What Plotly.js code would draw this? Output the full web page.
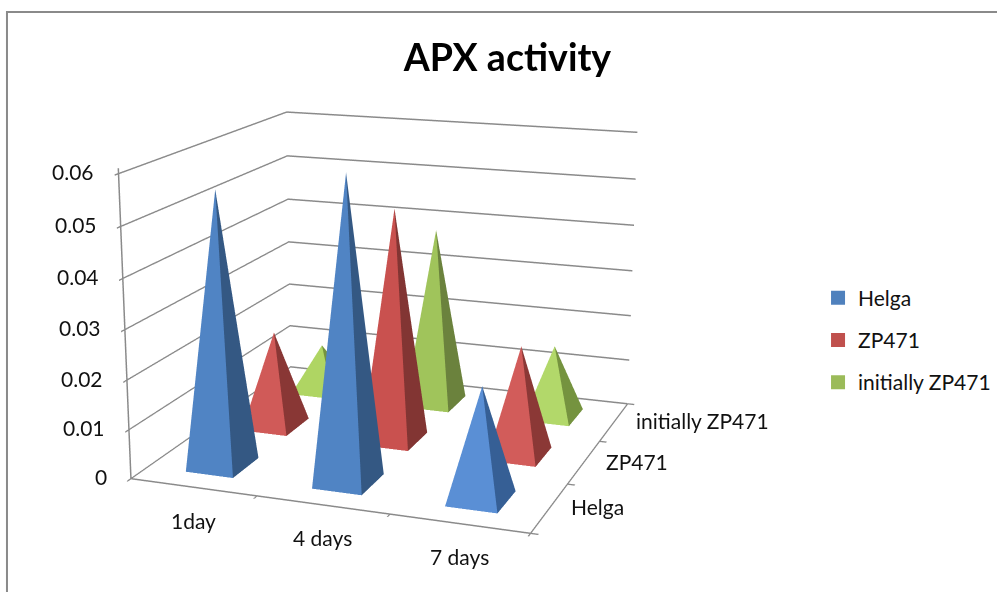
<!DOCTYPE html>
<html><head><meta charset="utf-8">
<script src="https://cdn.plot.ly/plotly-3.0.1.min.js"></script>
<style>html,body{margin:0;padding:0;background:#fff;overflow:hidden}#w{position:absolute;left:0;top:0;width:997px;height:592px;overflow:hidden}#c{position:absolute;left:0;top:-434px;width:997px;height:1460px}</style>
</head><body><div id="w"><div id="c"></div></div>
<script>
const categories = ["1day", "4 days", "7 days"];
const seriesNames = ["Helga", "ZP471", "initially ZP471"];
const helga = [0.0555, 0.0605, 0.0222];
const zp471 = [0.0202, 0.0485, 0.0226];
const initiallyZp471 = [0.0102, 0.0386, 0.0154];
const zTicks = [0, 0.01, 0.02, 0.03, 0.04, 0.05, 0.06];
const zTickLabels = ["0", "0.01", "0.02", "0.03", "0.04", "0.05", "0.06"];
const legendColors = ["#4f81bd", "#c0504d", "#9bbb59"];
const helgaFront = ["#5084c4", "#5084c4", "#5a8fd5"];
const zp471Front = ["#d05a58", "#c9514f", "#d25c5a"];
const initiallyFront = ["#afd563", "#a0c45b", "#b2d86a"];
const helgaSide = ["#345883", "#345883", "#365f95"];
const zp471Side = ["#893735", "#823533", "#8b3836"];
const initiallySide = ["#75933f", "#6b823d", "#75933f"];
const frontColors = [helgaFront, zp471Front, initiallyFront];
const sideColors = [helgaSide, zp471Side, initiallySide];
const seriesValues = [helga, zp471, initiallyZp471];
const halfX = 0.19, halfY = 0.23;
const PH = 1460, TOP = 434;
const py = y => 1 - (TOP + y) / PH;
const font = {family:"Lato, sans-serif", size:21, color:"#111"};

const traces = seriesNames.map((name, s) => {
  const x=[],y=[],z=[],i=[],j=[],k=[],fc=[];
  seriesValues[s].forEach((v,c)=>{
    const b=x.length;
    x.push(c-halfX,c+halfX,c+halfX,c-halfX,c);
    y.push(s-halfY,s-halfY,s+halfY,s+halfY,s);
    z.push(0,0,0,0,v);
    i.push(b,b+1,b+2,b+3); j.push(b+1,b+2,b+3,b); k.push(b+4,b+4,b+4,b+4);
    fc.push(frontColors[s][c],sideColors[s][c],sideColors[s][c],frontColors[s][c]);
  });
  return {type:"mesh3d",name,x,y,z,i,j,k,facecolor:fc,flatshading:true,showlegend:false,showscale:false,
    hoverinfo:"skip",lighting:{ambient:1,diffuse:0,specular:0,roughness:1,fresnel:0},lightposition:{x:0,y:0,z:1000}};
});
seriesNames.forEach((name,s)=>traces.push({type:"scatter3d",mode:"markers",name,x:[null],y:[null],z:[null],legendgroup:name,showlegend:true,
  marker:{symbol:"square",size:14,color:legendColors[s]},hoverinfo:"skip"}));

const axisBase = {showbackground:false,gridcolor:"#8a8a8a",gridwidth:3,showspikes:false,zeroline:false,showline:true,
  linecolor:"#8a8a8a",linewidth:3,ticks:"outside",ticklen:6,tickcolor:"#8a8a8a",tickwidth:3,showticklabels:false,title:{text:""}};

const annotations = [];
categories.forEach((t,c)=>annotations.push({x:c,y:-0.5,z:0,text:t,showarrow:false,yshift:-33,font}));
seriesNames.forEach((t,s)=>annotations.push({x:2.5,y:s,z:0,text:t,showarrow:false,xanchor:"left",xshift:20,yshift:1,font}));
zTicks.forEach((v,i)=>annotations.push({x:-0.5,y:-0.5,z:v,text:zTickLabels[i],showarrow:false,xanchor:"right",xshift:-22,yshift:2,font}));

Plotly.newPlot("c",traces,{
  width:997,height:PH,paper_bgcolor:"#fff",
  margin:{l:0,r:0,t:0,b:0},
  title:{text:"APX activity",x:0.509,xanchor:"center",y:py(58),yanchor:"middle",font:{family:"Lato, sans-serif",size:37.5,color:"#000",weight:700}},
  legend:{x:0.8205,y:py(340),yanchor:"middle",xanchor:"left",font,itemclick:false,traceorder:"grouped",tracegroupgap:12},
  shapes:[{type:"rect",xref:"paper",yref:"paper",x0:0.007,x1:1.1,y0:0,y1:py(12),line:{color:"#8a8a8a",width:2}}],
  scene:{
    domain:{x:[0,0.791],y:[0,1]},
    aspectmode:"manual",aspectratio:{x:0.995,y:0.97,z:0.757},
    camera:{eye:{x:1.46,y:-4.01,z:1.13},center:{x:0,y:0,z:0},up:{x:0,y:0,z:1},projection:{type:"perspective"}},
    xaxis:Object.assign({},axisBase,{range:[-0.5,2.5],tickmode:"array",tickvals:[-0.5,0.5,1.5,2.5],showgrid:false}),
    yaxis:Object.assign({},axisBase,{range:[-0.5,2.5],tickmode:"array",tickvals:[-0.5,0.5,1.5,2.5],showgrid:false}),
    zaxis:Object.assign({},axisBase,{range:[0,0.061],tickmode:"array",tickvals:zTicks}),
    annotations
  }
},{displayModeBar:false});
</script></body></html>
